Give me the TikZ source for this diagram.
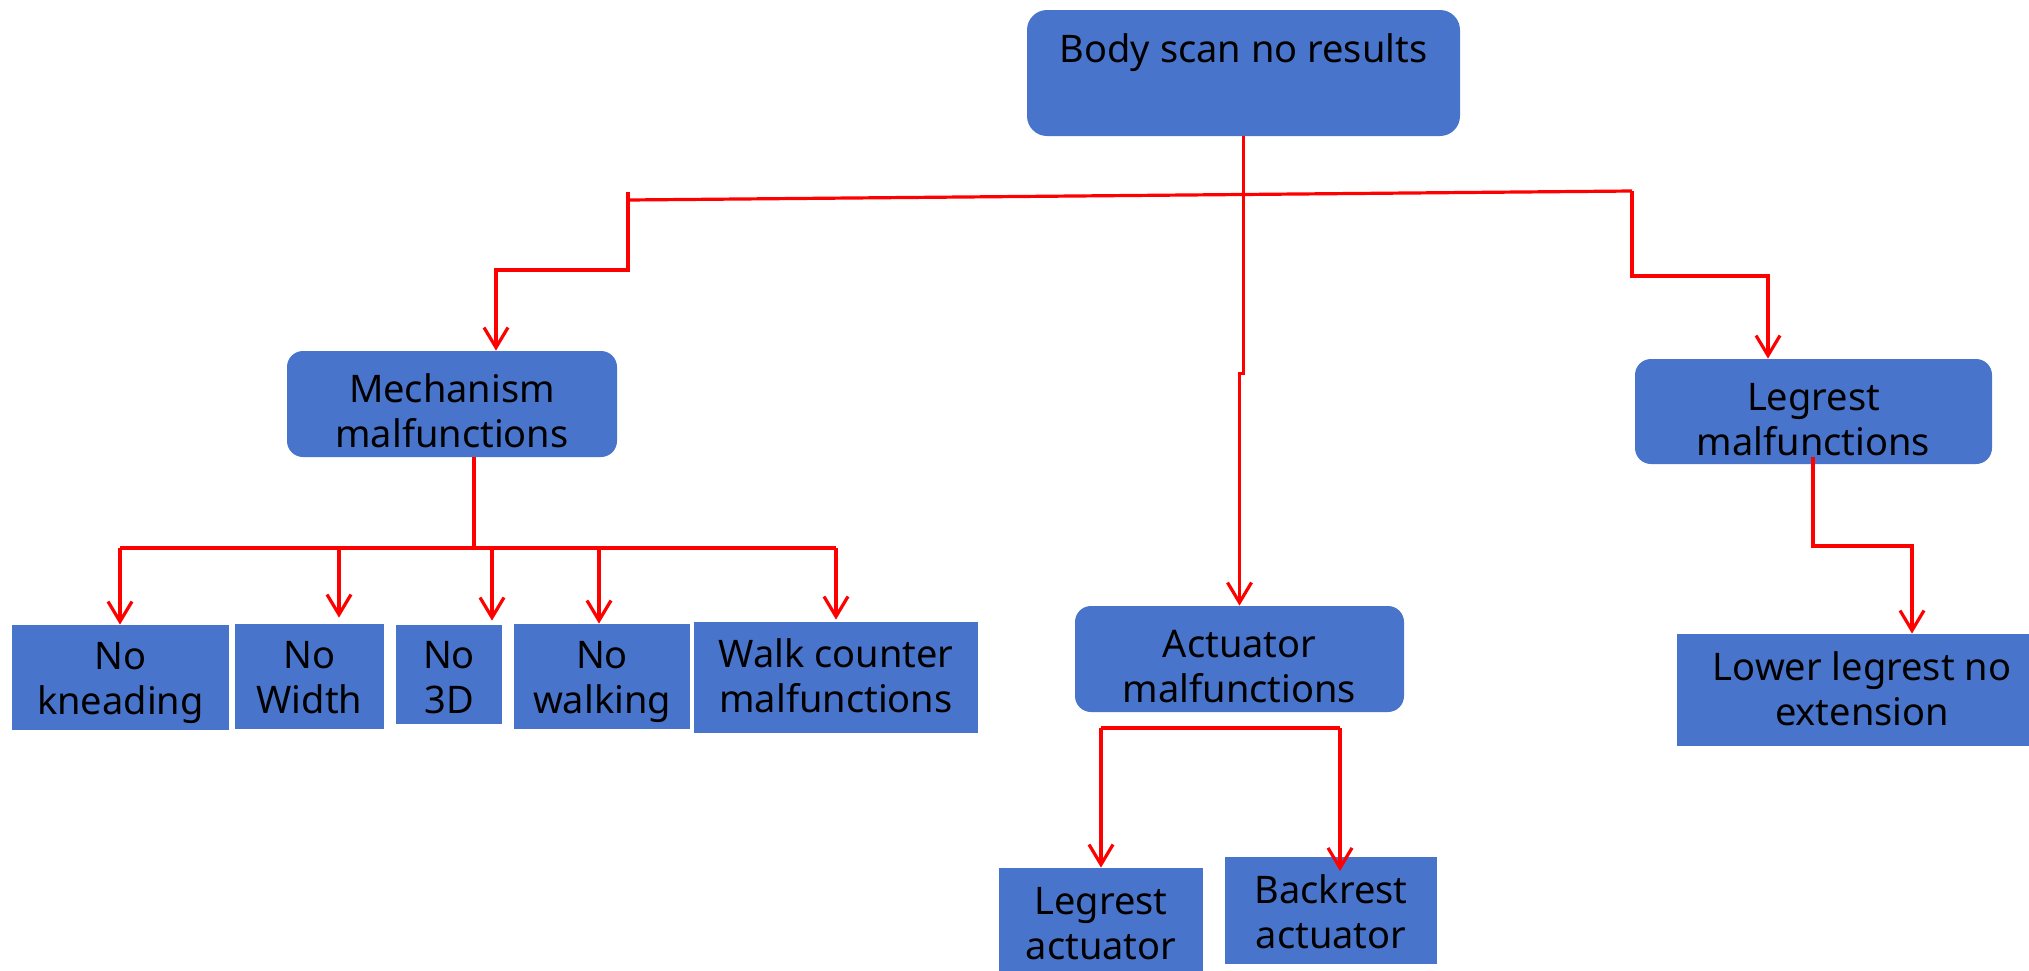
\documentclass[tikz,border=0pt]{standalone}
\usepackage{fontspec}
\setmainfont{Noto Sans}
\usetikzlibrary{arrows.meta}
\definecolor{boxblue}{RGB}{72,117,203}
\definecolor{linered}{RGB}{255,0,0}
\newcommand{\twoline}[2]{\begin{tabular}[t]{@{}c@{}}#1\\#2\end{tabular}}
\tikzset{
  box/.style={fill=boxblue, draw=none, inner sep=0pt},
  rbox/.style={box, rounded corners=8pt},
  txt/.style={inner sep=0pt, anchor=base, text=black, font=\fontsize{19pt}{22.5pt}\selectfont},
  conn/.style={draw=linered, line width=1.6pt, line join=miter},
  arr/.style={conn, -{Straight Barb[length=10pt,width=12pt,line width=1.6pt]}}
}
\begin{document}
\begin{tikzpicture}[x=0.5pt,y=-0.5pt]
\useasboundingbox (0,0) rectangle (2029,970);
% boxes
\node[rbox, rounded corners=10pt, minimum width=216.5pt, minimum height=63pt] (top) at (1243.5,73) {};
\node[rbox, minimum width=165pt, minimum height=53pt] (mech) at (452,404) {};
\node[rbox, minimum width=164.5pt, minimum height=53pt] (act) at (1239.5,659) {};
\node[rbox, minimum width=178.5pt, minimum height=52.5pt] (legm) at (1813.5,411.5) {};
\node[box, minimum width=108.5pt, minimum height=52.5pt] (knead) at (120.5,677.5) {};
\node[box, minimum width=74.5pt, minimum height=52.5pt] (width) at (309.5,676.5) {};
\node[box, minimum width=53pt, minimum height=49.5pt] (threed) at (449,674.5) {};
\node[box, minimum width=88pt, minimum height=52.5pt] (walking) at (602,676.5) {};
\node[box, minimum width=142pt, minimum height=55.5pt] (walkc) at (836,677.5) {};
\node[box, minimum width=102pt, minimum height=55pt] (legact) at (1101,923) {};
\node[box, minimum width=106pt, minimum height=53.5pt] (backact) at (1331,910.5) {};
\node[box, minimum width=185pt, minimum height=56pt] (lower) at (1862,690) {};
% texts (anchored at first baseline)
\node[txt] (topT) at (1243.5,62) {Body scan no results};
\node[txt] (mechT) at (452,402) {\twoline{Mechanism}{malfunctions}};
\node[txt] (actT) at (1239.5,657) {\twoline{Actuator}{malfunctions}};
\node[txt] (legmT) at (1813.5,410) {\twoline{Legrest}{malfunctions}};
\node[txt] (kneadT) at (120.5,669) {\twoline{No}{kneading}};
\node[txt] (widthT) at (309.5,668) {\twoline{No}{Width}};
\node[txt] (threedT) at (449,668) {\twoline{No}{3D}};
\node[txt] (walkingT) at (602,668) {\twoline{No}{walking}};
\node[txt] (walkcT) at (836,667) {\twoline{Walk counter}{malfunctions}};
\node[txt] (legactT) at (1101,914) {\twoline{Legrest}{actuator}};
\node[txt] (backactT) at (1331,903) {\twoline{Backrest}{actuator}};
\node[txt] (lowerT) at (1862,680) {\twoline{Lower legrest no}{extension}};
% coordinates
\coordinate (blt) at (628,192);
\coordinate (bl) at (628,200);
\coordinate (br) at (1632,191);
\coordinate (lk) at (496,270);
\coordinate (rk) at (1768,276);
\coordinate (mb) at (474,548);
\coordinate (mbl) at (120,548);
\coordinate (mbr) at (836,548);
\coordinate (m2) at (339,548);
\coordinate (m3) at (492,548);
\coordinate (m4) at (599,548);
\coordinate (ab1) at (1101,728);
\coordinate (ab2) at (1340,728);
\coordinate (bk) at (1340,871);
\coordinate (ls) at (1813,457);
\coordinate (lg) at (1912,546);
% connectors
\draw[arr] (top.south) -- ++(0,237) -| (act.north);
\draw[conn] (bl) -- (br);
\draw[arr] (blt) |- (lk) -- (lk |- mech.north);
\draw[arr] (br) |- (rk) -- (rk |- legm.north);
\draw[conn] (mech.south -| mb) -- (mb);
\draw[conn] (mbl) -- (mbr);
\draw[arr] (mbl) -- (mbl |- knead.north);
\draw[arr] (m2) -- ([yshift=3pt]m2 |- width.north);
\draw[arr] (m3) -- ([yshift=2pt]m3 |- threed.north);
\draw[arr] (m4) -- (m4 |- walking.north);
\draw[arr] (mbr) -- ([yshift=1pt]mbr |- walkc.north);
\draw[conn] (ab1) -- (ab2);
\draw[arr] (ab1) -- (ab1 |- legact.north);
\draw[arr] (ab2) -- (bk);
\draw[arr] (ls) |- (lg) -- (lg |- lower.north);
\end{tikzpicture}
\end{document}
